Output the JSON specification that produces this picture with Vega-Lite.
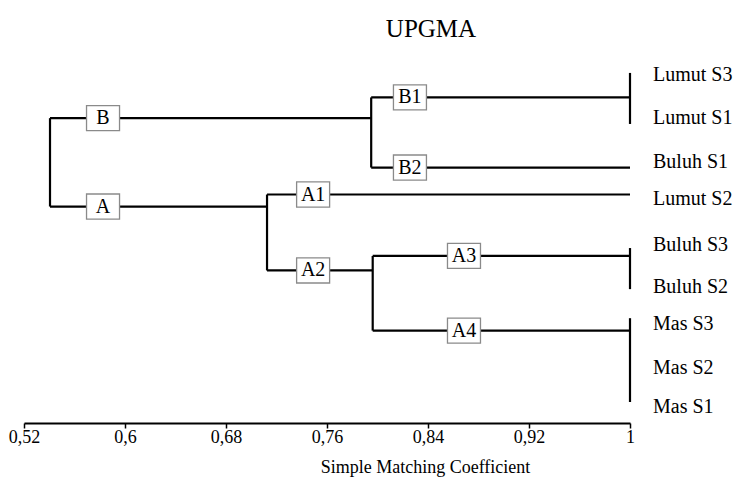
{
  "$schema": "https://vega.github.io/schema/vega-lite/v6.json",
  "width": 606,
  "height": 368,
  "autosize": {"type": "none"},
  "padding": {"left": 24, "top": 55, "right": 107, "bottom": 60},
  "background": "white",
  "title": {
    "text": "UPGMA",
    "anchor": "middle",
    "frame": "group",
    "dx": 104,
    "offset": 13,
    "font": "Liberation Serif",
    "fontSize": 25,
    "fontWeight": "normal",
    "color": "black"
  },
  "config": {
    "view": {"stroke": null},
    "font": "Liberation Serif"
  },
  "datasets": {
    "segments": [
      {"x": 0.5406, "x2": 0.5406, "y": 1.04, "y2": 3.17},
      {"x": 0.5406, "x2": 0.795, "y": 1.04, "y2": 1.04},
      {"x": 0.5406, "x2": 0.7125, "y": 3.17, "y2": 3.17},
      {"x": 0.795, "x2": 0.795, "y": 0.54, "y2": 2.23},
      {"x": 0.795, "x2": 1, "y": 0.54, "y2": 0.54},
      {"x": 0.795, "x2": 1, "y": 2.23, "y2": 2.23},
      {"x": 0.7125, "x2": 0.7125, "y": 2.88, "y2": 4.71},
      {"x": 0.7125, "x2": 1, "y": 2.88, "y2": 2.88},
      {"x": 0.7125, "x2": 0.7962, "y": 4.71, "y2": 4.71},
      {"x": 0.7962, "x2": 0.7962, "y": 4.36, "y2": 6.16},
      {"x": 0.7962, "x2": 1, "y": 4.36, "y2": 4.36},
      {"x": 0.7962, "x2": 1, "y": 6.16, "y2": 6.16},
      {"x": 1, "x2": 1, "y": -0.05, "y2": 1.18},
      {"x": 1, "x2": 1, "y": 4.17, "y2": 5.16},
      {"x": 1, "x2": 1, "y": 5.86, "y2": 7.88}
    ],
    "boxes": [
      {"x": 0.5826, "y": 1.04, "label": "B"},
      {"x": 0.5826, "y": 3.17, "label": "A"},
      {"x": 0.8257, "y": 0.54, "label": "B1"},
      {"x": 0.8257, "y": 2.23, "label": "B2"},
      {"x": 0.749, "y": 2.88, "label": "A1"},
      {"x": 0.749, "y": 4.71, "label": "A2"},
      {"x": 0.8685, "y": 4.36, "label": "A3"},
      {"x": 0.8685, "y": 6.16, "label": "A4"}
    ],
    "leaves": [
      {"name": "Lumut S3", "x": 1, "y": 0},
      {"name": "Lumut S1", "x": 1, "y": 1.04},
      {"name": "Buluh S1", "x": 1, "y": 2.1},
      {"name": "Lumut S2", "x": 1, "y": 2.99},
      {"name": "Buluh S3", "x": 1, "y": 4.1},
      {"name": "Buluh S2", "x": 1, "y": 5.1},
      {"name": "Mas S3", "x": 1, "y": 6.0},
      {"name": "Mas S2", "x": 1, "y": 7.06},
      {"name": "Mas S1", "x": 1, "y": 8.0}
    ]
  },
  "layer": [
    {
      "data": {"name": "segments"},
      "mark": {"type": "rule", "color": "black", "strokeWidth": 2.2},
      "encoding": {
        "x": {
          "field": "x",
          "type": "quantitative",
          "scale": {"domain": [0.52, 1], "nice": false, "zero": false},
          "axis": {
            "values": [0.52, 0.6, 0.68, 0.76, 0.84, 0.92, 1],
            "labelExpr": "replace(format(datum.value, '.2~f'), '.', ',')",
            "title": "Simple Matching Coefficient",
            "titleFont": "Liberation Serif",
            "titleFontSize": 18,
            "titleFontWeight": "normal",
            "titleColor": "black",
            "titleX": 401,
            "titleY": 44,
            "titleAlign": "center",
            "titleBaseline": "middle",
            "titleAnchor": null,
            "labelFont": "Liberation Serif",
            "labelFontSize": 18,
            "labelColor": "black",
            "labelPadding": 0,
            "labelFlush": false,
            "labelOverlap": false,
            "domainColor": "black",
            "domainWidth": 2.2,
            "tickColor": "black",
            "tickWidth": 1.5,
            "tickSize": 5,
            "grid": false
          }
        },
        "x2": {"field": "x2"},
        "y": {
          "field": "y",
          "type": "quantitative",
          "scale": {"domain": [-0.482, 8.386], "reverse": true, "nice": false, "zero": false},
          "axis": null
        },
        "y2": {"field": "y2"}
      }
    },
    {
      "data": {"name": "boxes"},
      "mark": {
        "type": "point",
        "shape": "M-1,-0.76H1V0.76H-1Z",
        "size": 1089,
        "filled": true,
        "fill": "white",
        "stroke": "#8a8a8a",
        "strokeWidth": 1.3,
        "opacity": 1
      },
      "encoding": {
        "x": {"field": "x", "type": "quantitative"},
        "y": {"field": "y", "type": "quantitative"}
      }
    },
    {
      "data": {"name": "boxes"},
      "mark": {
        "type": "text",
        "font": "Liberation Serif",
        "fontSize": 20,
        "color": "black",
        "align": "center",
        "baseline": "middle"
      },
      "encoding": {
        "x": {"field": "x", "type": "quantitative"},
        "y": {"field": "y", "type": "quantitative"},
        "text": {"field": "label"}
      }
    },
    {
      "data": {"name": "leaves"},
      "mark": {
        "type": "text",
        "font": "Liberation Serif",
        "fontSize": 20,
        "color": "black",
        "align": "left",
        "baseline": "middle",
        "dx": 23
      },
      "encoding": {
        "x": {"field": "x", "type": "quantitative"},
        "y": {"field": "y", "type": "quantitative"},
        "text": {"field": "name"}
      }
    }
  ]
}
